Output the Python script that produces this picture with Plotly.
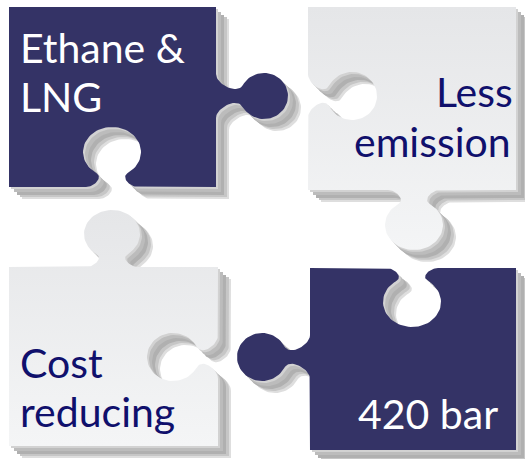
import numpy as np
import plotly.graph_objects as go

W, H = 525, 459

# ---- text content ----
labels = ["Ethane &", "LNG", "Less", "emission", "Cost", "reducing", "420 bar"]

# ---- colours ----
DARK = "#343366"
LIGHT_TOP = "#f4f5f6"
LIGHT_BOT = "#e5e6e8"
TEXT_NAVY = "#10106c"

# ---- piece rectangles: x0, x1, y0, y1 ----
piece_rects = {
    "TL": (9, 216, 7, 187),
    "TR": (308, 516, 7, 190),
    "BL": (9, 218, 267, 446),
    "BR": (310, 516, 268, 450),
}
piece_kind = {"TL": "dark", "TR": "light", "BL": "light", "BR": "dark"}

# features: piece, edge, position along edge, +1 knob / -1 hole, d, rx, rv, wn, a, k, t
features = [
    ("TL", "right", 96, +1, 48, 23, 24, 11, 22, 10, 12),
    ("TL", "bottom", 112, -1, 35, 29, 25, 16, 26, 8, 9),
    ("TR", "left", 96, -1, 44, 24, 25, 11, 22, 10, 12),
    ("TR", "bottom", 414, +1, 35, 29, 25, 16, 26, 8, 9),
    ("BL", "top", 112, +1, 33, 28, 24, 16, 26, 8, 9),
    ("BL", "right", 357, -1, 45, 24, 26, 11, 22, 10, 12),
    ("BR", "top", 412, -1, 34, 29, 25, 16, 26, 8, 9),
    ("BR", "left", 357, +1, 48, 24, 25, 11, 22, 10, 12),
]

# shadow layers: dx, dy, colour (drawn from first to last)
shadow_layers = [
    (13, 12, "#dedede"),
    (11, 10, "#c6c6c6"),
    (8, 8, "#b0b0b0"),
    (5, 5, "#bcbcbc"),
    (2, 2, "#d2d2d2"),
]


def bezier(p0, p1, p2, p3, n=24):
    s = np.linspace(0, 1, n)[:, None]
    return ((1 - s) ** 3) * p0 + 3 * ((1 - s) ** 2) * s * p1 + 3 * (1 - s) * s * s * p2 + (s ** 3) * p3


def feature_local(d, rx, rv, wn, a, k, t):
    c = wn / rx
    s = np.sqrt(1 - c * c)
    vn = d - rv * s
    thL = np.pi + np.arctan2(s, c)
    thR = -np.arctan2(s, c)
    TL_ = np.array([-rx * s, rv * c]); TL_ /= np.linalg.norm(TL_)
    TR_ = np.array([-rx * s, -rv * c]); TR_ /= np.linalg.norm(TR_)
    p3 = np.array([-wn, vn])
    left = bezier(np.array([-a, 0.0]), np.array([-a + k, 0.0]), p3 - t * TL_, p3)
    th = np.linspace(thL, thR, 60)
    head = np.column_stack([rx * np.cos(th), d + rv * np.sin(th)])
    p0 = np.array([wn, vn])
    right = bezier(p0, p0 + t * TR_, np.array([a - k, 0.0]), np.array([a, 0.0]))
    return np.vstack([left, head[1:-1], right])


def outline(name):
    x0, x1, y0, y1 = piece_rects[name]
    corners = [np.array(p, float) for p in [(x0, y0), (x1, y0), (x1, y1), (x0, y1)]]
    edges = ["top", "right", "bottom", "left"]
    pts = []
    for i, e in enumerate(edges):
        P, Q = corners[i], corners[(i + 1) % 4]
        T = (Q - P) / np.linalg.norm(Q - P)
        N = np.array([T[1], -T[0]])
        pts.append(P)
        for f in features:
            if f[0] != name or f[1] != e:
                continue
            _, _, pos, kind, d, rx, rv, wn, a, k, t = f
            C = np.array([pos, P[1]]) if e in ("top", "bottom") else np.array([P[0], pos])
            loc = feature_local(d, rx, rv, wn, a, k, t)
            for u, v in loc:
                pts.append(C + u * T + v * kind * N)
    pts.append(corners[0])
    arr = np.array(pts)
    return arr[:, 0], arr[:, 1]


fig = go.Figure()

# shadows
for name in piece_rects:
    xs, ys = outline(name)
    for dx, dy, col in shadow_layers:
        fig.add_trace(go.Scatter(x=xs + dx, y=ys + dy, mode="lines", fill="toself",
                                 fillcolor=col, line=dict(width=0), hoverinfo="skip",
                                 showlegend=False))

# pieces
for name in piece_rects:
    xs, ys = outline(name)
    if piece_kind[name] == "dark":
        fig.add_trace(go.Scatter(x=xs, y=ys, mode="lines", fill="toself", fillcolor=DARK,
                                 line=dict(width=0), hoverinfo="skip", showlegend=False))
    else:
        fig.add_trace(go.Scatter(x=xs, y=ys, mode="lines", fill="toself",
                                 fillgradient=dict(type="vertical",
                                                   colorscale=[[0, LIGHT_TOP], [1, LIGHT_BOT]]),
                                 line=dict(width=0), hoverinfo="skip", showlegend=False))

FONT = "Lato"
FS = 41
text_specs = [
    # label index, x, y(center), xanchor, colour
    (0, 18, 47, "left", "white"),
    (1, 18, 96, "left", "white"),
    (2, 515, 91, "right", TEXT_NAVY),
    (3, 513, 141, "right", TEXT_NAVY),
    (4, 18, 362, "left", TEXT_NAVY),
    (5, 18, 411, "left", TEXT_NAVY),
    (6, 500, 413, "right", "white"),
]
for idx, x, y, xa, col in text_specs:
    fig.add_annotation(x=x, y=y, xref="x", yref="y", text=labels[idx], showarrow=False,
                       xanchor=xa, yanchor="middle",
                       font=dict(family=FONT, size=FS, color=col))

fig.update_layout(
    width=W, height=H, autosize=False,
    margin=dict(l=0, r=0, t=0, b=0),
    paper_bgcolor="white", plot_bgcolor="white",
    xaxis=dict(range=[0, W], visible=False, fixedrange=True),
    yaxis=dict(range=[H, 0], visible=False, fixedrange=True),
)

fig.write_html("out.html", config={"staticPlot": True},
               post_script="document.body.style.margin='0';")
